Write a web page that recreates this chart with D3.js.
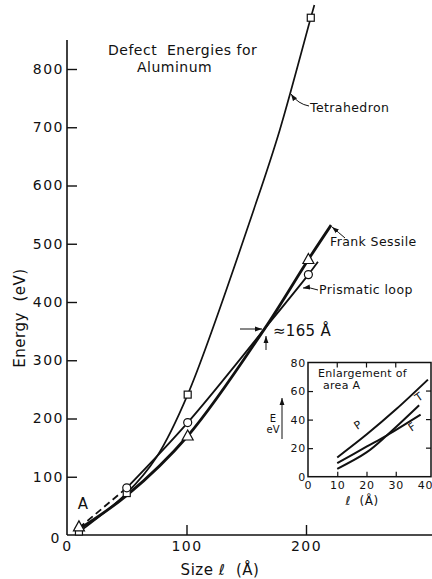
<!DOCTYPE html>
<html><head><meta charset="utf-8">
<script src="https://cdn.jsdelivr.net/npm/d3@7"></script>
<style>body{margin:0;background:#fff}svg{display:block}text{font-family:"DejaVu Sans",sans-serif;fill:#111}</style>
</head><body><svg id="c" width="432" height="579"></svg>
<script>
// ---- data ----
const xTicks = [0, 100, 200];
const yTicks = [0, 100, 200, 300, 400, 500, 600, 700, 800];
const tetraCurve = [[10,5],[50,72],[75,134],[101,241],[159,575],[178,695],[204,888],[207,910]];
const tetraPts = [[10,6],[50,72],[101,241],[204,888]];
const frankCurve = [[10,10],[50,68],[101,170],[165,353],[202,473],[221,532]];
const frankPts = [[10,14],[101,170],[202,473]];
const prisDashed = [[10,12],[50,81]];
const prisCurve = [[50,81],[101,193],[165,353],[202,447],[210,469]];
const prisPts = [[50,81],[101,193],[202,447]];
const insetXTicks = [0, 10, 20, 30, 40];
const insetYTicks = [0, 20, 40, 60, 80];
const insetP = [[10,13.5],[20,29.5],[30,47],[41,68]];
const insetT = [[10,5.5],[20,17],[27,29],[38,50]];
const insetF = [[10,9.5],[20,21],[27,29],[38.5,43.5]];

const svg = d3.select("#c");
const defs = svg.append("defs");
defs.append("marker").attr("id","ah").attr("viewBox","0 0 10 10").attr("refX",10).attr("refY",5)
  .attr("markerWidth",7).attr("markerHeight",7).attr("orient","auto-start-reverse")
  .append("path").attr("d","M0,1.5 L10,5 L0,8.5 Z").attr("fill","#111");

const x = d3.scaleLinear().domain([0,200]).range([67,306]);
const y = d3.scaleLinear().domain([0,800]).range([535,69]);

// axes
const gy = svg.append("g").attr("transform",`translate(${x(0)},0)`)
  .call(d3.axisLeft(y).tickValues(yTicks).tickSize(-10).tickPadding(3).tickFormat(d3.format("d")));
gy.select(".domain").remove();
const gx = svg.append("g").attr("transform",`translate(0,${y(0)})`)
  .call(d3.axisBottom(x).tickValues(xTicks).tickSize(-10).tickPadding(6).tickFormat(d3.format("d")));
gx.select(".domain").remove();
svg.selectAll(".tick line").attr("stroke","#111").attr("stroke-width",1.4);
svg.selectAll(".tick text").style("font-family","DejaVu Sans").style("font-size","14px")
  .style("letter-spacing","1.5px").attr("fill","#111");
gx.selectAll(".tick").filter(d=>d===0).select("line").remove();
gy.selectAll(".tick").filter(d=>d===0).select("line").remove();
gy.selectAll(".tick").filter(d=>d===0).select("text").attr("x",-6).attr("dy","0.55em");
svg.append("line").attr("x1",x(0)).attr("x2",x(0)).attr("y1",y(0)).attr("y2",40).attr("stroke","#111").attr("stroke-width",1.6);
svg.append("line").attr("x1",x(0)).attr("x2",432).attr("y1",y(0)).attr("y2",y(0)).attr("stroke","#111").attr("stroke-width",1.6);

// curves
const line = d3.line().x(d=>x(d[0])).y(d=>y(d[1])).curve(d3.curveCatmullRom.alpha(0.5));
svg.append("path").attr("d",line(tetraCurve)).attr("fill","none").attr("stroke","#111").attr("stroke-width",1.7);
svg.append("path").attr("d",line(prisCurve)).attr("fill","none").attr("stroke","#111").attr("stroke-width",1.8);
svg.append("path").attr("d",d3.line().x(d=>x(d[0])).y(d=>y(d[1]))(prisDashed)).attr("fill","none")
  .attr("stroke","#111").attr("stroke-width",1.8).attr("stroke-dasharray","7,4");
svg.append("path").attr("d",line(frankCurve)).attr("fill","none").attr("stroke","#111").attr("stroke-width",2.8);

// markers
svg.selectAll(".sq").data(tetraPts).join("rect").attr("x",d=>x(d[0])-3.5).attr("y",d=>y(d[1])-3.5)
  .attr("width",7).attr("height",7).attr("fill","#fff").attr("stroke","#111").attr("stroke-width",1.2);
svg.selectAll(".ci").data(prisPts).join("circle").attr("cx",d=>x(d[0])).attr("cy",d=>y(d[1])).attr("r",4)
  .attr("fill","#fff").attr("stroke","#111").attr("stroke-width",1.2);
svg.selectAll(".tr").data(frankPts).join("path")
  .attr("d",d=>{const cx=x(d[0]),cy=y(d[1]);return `M${cx},${cy-6} L${cx+5.5},${cy+4} L${cx-5.5},${cy+4} Z`;})
  .attr("fill","#fff").attr("stroke","#111").attr("stroke-width",1.2);

// texts
function txt(t,xx,yy,size,opts={}){
  const e=svg.append("text").attr("x",xx).attr("y",yy).style("font-size",size+"px").text(t);
  if(opts.ls!==undefined) e.style("letter-spacing",opts.ls+"px");
  if(opts.anchor) e.attr("text-anchor",opts.anchor);
  if(opts.rot!==undefined) e.attr("transform",`rotate(${opts.rot},${xx},${yy})`);
  return e;
}
txt("Defect  Energies for",108,55,14,{ls:0.5}).style("white-space","pre");
txt("Aluminum",137,72,14,{ls:0.5});
txt("Energy  (eV)",25,318,15,{ls:0.5,anchor:"middle",rot:-90}).style("white-space","pre");
txt("Size ℓ  (Å)",220,575,15,{ls:0.5,anchor:"middle"}).style("white-space","pre");
txt("A",83,509,15,{anchor:"middle"});
txt("Tetrahedron",310,112,12.5,{ls:0.4});
txt("Frank Sessile",330,246,12.5,{ls:0.4});
txt("Prismatic loop",319,294,12.5,{ls:0.4});
txt("≈165 Å",273,336,15,{ls:0.3});

// leaders
const lead = (d)=>svg.append("path").attr("d",d).attr("fill","none").attr("stroke","#111").attr("stroke-width",1).attr("marker-end","url(#ah)");
lead("M309,106 Q298,104 291,94");
lead("M345,238 Q338,232 332,227");
lead("M318,290 Q310,287 303,288");
lead("M240,329 L262,329");
lead("M266,350 L266,336");

// inset
const ix = d3.scaleLinear().domain([0,40]).range([308,425]);
const iy = d3.scaleLinear().domain([0,80]).range([476.7,362.5]);
svg.append("rect").attr("x",ix(0)).attr("y",iy(80)).attr("width",431-ix(0)).attr("height",iy(0)-iy(80))
  .attr("fill","none").attr("stroke","#111").attr("stroke-width",1.5);
const giy = svg.append("g").attr("transform",`translate(${ix(0)},0)`)
  .call(d3.axisLeft(iy).tickValues(insetYTicks).tickSize(-5).tickPadding(2));
giy.select(".domain").remove();
const gix = svg.append("g").attr("transform",`translate(0,${iy(0)})`)
  .call(d3.axisBottom(ix).tickValues(insetXTicks).tickSize(-5).tickPadding(5));
gix.select(".domain").remove();
// inward ticks on right and top
svg.selectAll(".rt").data(insetYTicks.filter(d=>d>0&&d<80)).join("line")
  .attr("x1",431).attr("x2",426).attr("y1",d=>iy(d)).attr("y2",d=>iy(d)).attr("stroke","#111").attr("stroke-width",1.2);
svg.selectAll(".tt").data(insetXTicks.filter(d=>d>0&&d<40)).join("line")
  .attr("x1",d=>ix(d)).attr("x2",d=>ix(d)).attr("y1",iy(80)).attr("y2",iy(80)+5).attr("stroke","#111").attr("stroke-width",1.2);
[giy,gix].forEach(g=>{
  g.selectAll(".tick line").attr("stroke","#111").attr("stroke-width",1.2);
  g.selectAll(".tick").filter(d=>d===0||d===80||d===40&&g===gix).select("line").remove();
  g.selectAll(".tick text").style("font-family","DejaVu Sans").style("font-size","11px").style("letter-spacing","0.8px").attr("fill","#111");
});
const iline = d3.line().x(d=>ix(d[0])).y(d=>iy(d[1])).curve(d3.curveCatmullRom.alpha(0.5));
[insetP,insetT,insetF].forEach(s=>svg.append("path").attr("d",iline(s)).attr("fill","none").attr("stroke","#111").attr("stroke-width",2));
txt("Enlargement of",318,377,11,{ls:0.3});
txt("area A",323,389,11,{ls:0.3});
txt("P",360,428,11,{anchor:"middle",rot:-35});
txt("T",421,400,11,{anchor:"middle",rot:-35});
txt("F",414,430,11,{anchor:"middle",rot:-35});
txt("E",273,422,10,{anchor:"middle"});
txt("eV",273,433,10,{anchor:"middle"});
lead("M282,439 L282,398");
txt("ℓ  (Å)",362,505,12,{anchor:"middle",ls:0.5}).style("white-space","pre");
</script></body></html>
